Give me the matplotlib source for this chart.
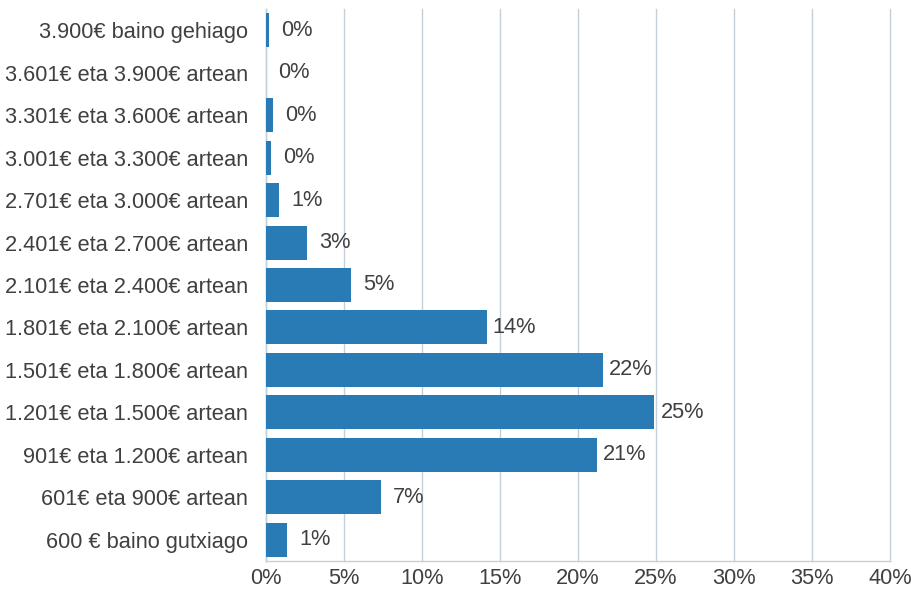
import matplotlib
matplotlib.use('Agg')
import matplotlib.pyplot as plt
import numpy as np

# kategoriak (behetik gora)
categories = ['600 € baino gutxiago', '601€ eta 900€ artean', '901€ eta 1.200€ artean',
              '1.201€ eta 1.500€ artean', '1.501€ eta 1.800€ artean', '1.801€ eta 2.100€ artean',
              '2.101€ eta 2.400€ artean', '2.401€ eta 2.700€ artean', '2.701€ eta 3.000€ artean',
              '3.001€ eta 3.300€ artean', '3.301€ eta 3.600€ artean', '3.601€ eta 3.900€ artean',
              '3.900€ baino gehiago']
values = [1.35, 7.37, 21.2, 24.9, 21.6, 14.15, 5.45, 2.63, 0.83, 0.32, 0.47, 0.0, 0.2]
xticks = [0, 5, 10, 15, 20, 25, 30, 35, 40]

plt.rcParams['font.family'] = ['Liberation Sans', 'DejaVu Sans']
text_color = '#404040'
bar_color = '#287bb5'
grid_color = '#c3cfda'
fs = 15.7

fig = plt.figure(figsize=(9.11, 5.91), dpi=100)
ax = fig.add_axes([0.292, 0.0508, 0.685, 0.934])

y = np.arange(len(categories))
ax.barh(y, values, height=0.8, color=bar_color, zorder=3)

for yi, v in zip(y, values):
    ax.annotate('%d%%' % round(v), xy=(v, yi), xytext=(20, 0), textcoords='offset points',
                ha='center', va='center', fontsize=fs, color=text_color)

ax.set_xlim(0, 40)
ax.set_ylim(-0.5, len(categories) - 0.5)
ax.set_xticks(xticks)
ax.set_xticklabels(['%d%%' % t for t in xticks])
ax.set_yticks(y)
ax.set_yticklabels(categories)
ax.tick_params(axis='both', length=0, labelsize=fs, labelcolor=text_color)
ax.tick_params(axis='y', pad=13)
ax.tick_params(axis='x', pad=5)

ax.grid(axis='x', color=grid_color, linewidth=1, zorder=0)
for line in ax.get_xgridlines():
    line.set_clip_on(False)
for s in ['top', 'right']:
    ax.spines[s].set_visible(False)
for s in ['left', 'bottom']:
    ax.spines[s].set_color(grid_color)
    ax.spines[s].set_linewidth(1)

fig.savefig('out.png', dpi=100)
